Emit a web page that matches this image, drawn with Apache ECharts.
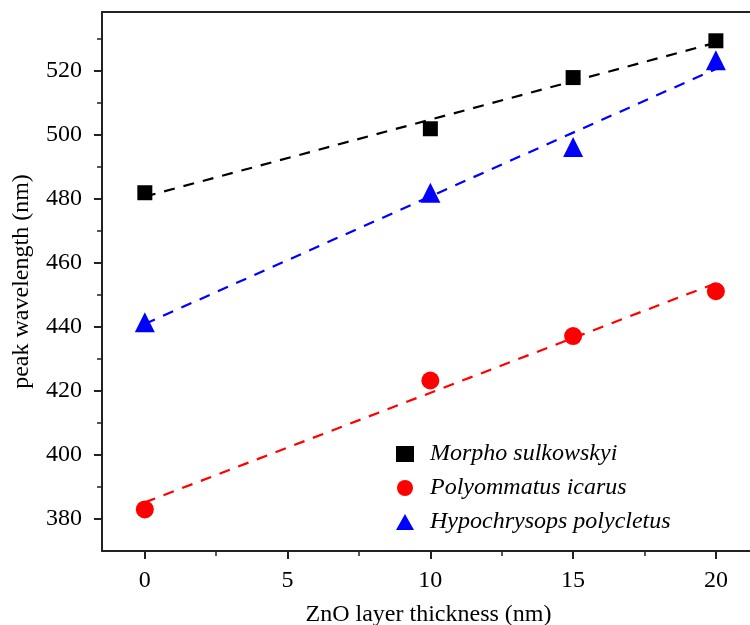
<!DOCTYPE html>
<html>
<head>
<meta charset="utf-8">
<script src="https://cdn.jsdelivr.net/npm/echarts@6/dist/echarts.min.js"></script>
<style>
    html, body { margin: 0; padding: 0; background: #fff; }
    #main { width: 750px; height: 625px; }
</style>
</head>
<body>
<div id="main"></div>
<script>
// thickness of the ZnO layer (nm)
var thickness = [0, 10, 15, 20];
// peak wavelength per species (nm)
var morpho = [482, 502, 518, 529.5];
var polyommatus = [383, 423.3, 437.2, 451.2];
var hypochrysops = [441.5, 482, 496.3, 523.4];
// ends of the dashed linear fits
var fitX = [0, 20];
var morphoFit = [480.8, 528.9];
var polyommatusFit = [385.2, 453.7];
var hypochrysopsFit = [441, 520.7];
var names = ['Morpho sulkowskyi', 'Polyommatus icarus', 'Hypochrysops polycletus'];
// tick labels
var xTicks = [0, 5, 10, 15, 20];
var xMinor = [2.5, 7.5, 12.5, 17.5];
var yTicks = [380, 400, 420, 440, 460, 480, 500, 520];
var yMinor = [390, 410, 430, 450, 470, 490, 510, 530];

function pairs(xs, ys) {
    return xs.map(function (x, i) { return [x, ys[i]]; });
}

var serif = 'Liberation Serif';
var fs = 24;
var axisColor = '#222';
// the plot runs past the right edge of the picture
var xMin = -1.5, xMax = 21.37, yMin = 370, yMax = 538.5;
var myChart = echarts.init(document.getElementById('main'));

function fitLine(ys, color) {
    return {
        type: 'line',
        data: pairs(fitX, ys),
        symbol: 'none',
        silent: true,
        z: 1,
        lineStyle: {color: color, width: 2.2, type: [11, 9]}
    };
}

function points(name, ys, symbol, size, color) {
    return {
        name: name,
        type: 'scatter',
        data: pairs(thickness, ys),
        symbol: symbol,
        symbolSize: size,
        z: 3,
        itemStyle: {color: color, opacity: 1}
    };
}

// axis used only to draw minor ticks at fixed spots
function minorAxis(kind, values, position) {
    return {
        type: 'value',
        position: position,
        min: kind === 'x' ? xMin : yMin,
        max: kind === 'x' ? xMax : yMax,
        axisLine: {show: false, onZero: false},
        axisTick: {show: true, length: 5, lineStyle: {color: axisColor, width: 1.5}, customValues: values},
        axisLabel: {show: false},
        splitLine: {show: false}
    };
}

var option = {
    animation: false,
    backgroundColor: '#fff',
    grid: {left: 102, right: -5, top: 12, bottom: 74, containLabel: false, outerBoundsMode: 'none'},
    legend: {
        orient: 'vertical',
        left: 391,
        top: 437,
        itemGap: 10,
        itemWidth: 18,
        itemHeight: 16,
        textStyle: {fontFamily: serif, fontStyle: 'italic', fontSize: fs, color: '#000', padding: [0, 0, 0, 11]},
        data: [
            {name: names[0], icon: 'rect', itemStyle: {color: '#000'}},
            {name: names[1], icon: 'circle', itemStyle: {color: '#f00'}},
            {name: names[2], icon: 'triangle', itemStyle: {color: '#00f'}}
        ]
    },
    xAxis: [
        {
            type: 'value',
            min: xMin,
            max: xMax,
            name: 'ZnO layer thickness (nm)',
            nameLocation: 'middle',
            nameGap: 52,
            nameTextStyle: {fontFamily: serif, fontSize: fs, color: '#000'},
            splitLine: {show: false},
            axisLine: {onZero: false, lineStyle: {color: axisColor, width: 2}},
            axisTick: {length: 8, lineStyle: {color: axisColor, width: 2}, customValues: xTicks},
            axisLabel: {fontFamily: serif, fontSize: fs, color: '#000', margin: 18, customValues: xTicks}
        },
        {
            // top frame line
            type: 'value',
            position: 'top',
            min: xMin,
            max: xMax,
            axisLine: {show: true, onZero: false, lineStyle: {color: axisColor, width: 2}},
            axisTick: {show: false},
            axisLabel: {show: false},
            splitLine: {show: false}
        },
        minorAxis('x', xMinor, 'bottom')
    ],
    yAxis: [
        {
            type: 'value',
            min: yMin,
            max: yMax,
            name: 'peak wavelength (nm)',
            nameLocation: 'middle',
            nameGap: 68,
            nameTextStyle: {fontFamily: serif, fontSize: fs, color: '#000'},
            splitLine: {show: false},
            axisLine: {show: true, onZero: false, lineStyle: {color: axisColor, width: 2}},
            axisTick: {length: 8, lineStyle: {color: axisColor, width: 2}, customValues: yTicks},
            axisLabel: {fontFamily: serif, fontSize: fs, color: '#000', margin: 20, customValues: yTicks}
        },
        minorAxis('y', yMinor, 'left')
    ],
    series: [
        fitLine(morphoFit, '#000'),
        fitLine(polyommatusFit, '#f00'),
        fitLine(hypochrysopsFit, '#00f'),
        points(names[0], morpho, 'rect', 15, '#000'),
        points(names[1], polyommatus, 'circle', 18, '#f00'),
        points(names[2], hypochrysops, 'triangle', 20, '#00f')
    ]
};

myChart.setOption(option);
</script>
</body>
</html>
